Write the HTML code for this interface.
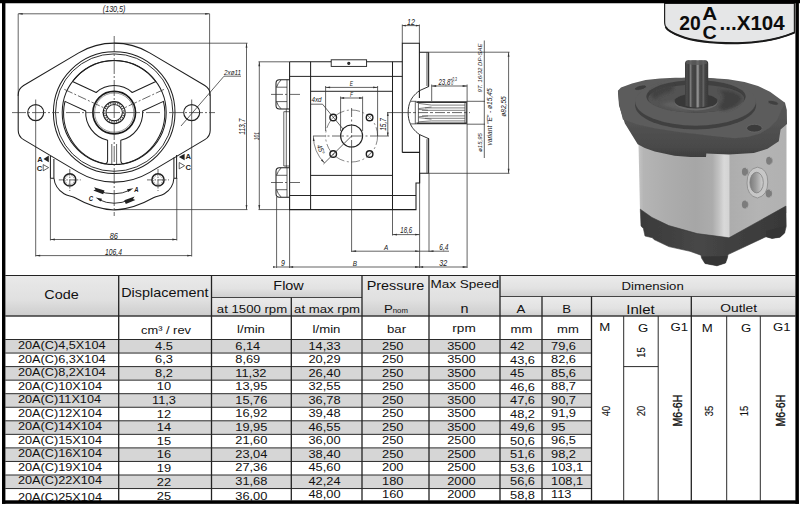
<!DOCTYPE html>
<html><head><meta charset="utf-8"><title>20A(C)...X104</title>
<style>
html,body{margin:0;padding:0;background:#fff;}
svg{display:block;font-family:"Liberation Sans",sans-serif;}
</style></head><body>
<svg width="800" height="505" viewBox="0 0 800 505">
<defs>
<linearGradient id="hg" x1="0" y1="0" x2="0" y2="1"><stop offset="0" stop-color="#e9e9e9"/><stop offset="0.6" stop-color="#e0e0e0"/><stop offset="1" stop-color="#cdcdcd"/></linearGradient>
<linearGradient id="hg2" x1="0" y1="0" x2="0" y2="1"><stop offset="0" stop-color="#ebebeb"/><stop offset="0.6" stop-color="#e2e2e2"/><stop offset="1" stop-color="#cfcfcf"/></linearGradient>

<filter id="pb" x="-5%" y="-5%" width="110%" height="110%"><feGaussianBlur stdDeviation="0.7"/></filter>
<filter id="pb2" x="-10%" y="-10%" width="120%" height="120%"><feGaussianBlur stdDeviation="1.4"/></filter>
<linearGradient id="bodyL" gradientUnits="userSpaceOnUse" x1="638" y1="0" x2="731" y2="0">
<stop offset="0" stop-color="#c6c6c6"/><stop offset="0.06" stop-color="#b5b5b5"/><stop offset="0.3" stop-color="#adadad"/>
<stop offset="0.62" stop-color="#a6a6a6"/><stop offset="0.8" stop-color="#acacac"/><stop offset="0.87" stop-color="#c2c2c2"/>
<stop offset="0.925" stop-color="#d9d9d9"/><stop offset="0.975" stop-color="#d4d4d4"/><stop offset="1" stop-color="#b0b0b0"/></linearGradient>
<linearGradient id="bodyR" gradientUnits="userSpaceOnUse" x1="730" y1="0" x2="787" y2="0">
<stop offset="0" stop-color="#adadad"/><stop offset="0.5" stop-color="#b4b4b4"/><stop offset="1" stop-color="#b1b1b1"/></linearGradient>
<linearGradient id="cov" gradientUnits="userSpaceOnUse" x1="640" y1="0" x2="787" y2="0">
<stop offset="0" stop-color="#3a3a3a"/><stop offset="0.4" stop-color="#474747"/><stop offset="0.62" stop-color="#404040"/><stop offset="1" stop-color="#383838"/></linearGradient>
<linearGradient id="flS" gradientUnits="userSpaceOnUse" x1="0" y1="118" x2="0" y2="158">
<stop offset="0" stop-color="#545454"/><stop offset="0.7" stop-color="#4a4a4a"/><stop offset="1" stop-color="#3c3c3c"/></linearGradient>
<linearGradient id="shaft" gradientUnits="userSpaceOnUse" x1="685" y1="0" x2="708.2" y2="0">
<stop offset="0" stop-color="#3c3c3c"/><stop offset="0.08" stop-color="#4a4a4a"/><stop offset="0.17" stop-color="#3e3e3e"/>
<stop offset="0.24" stop-color="#7c7c7c"/><stop offset="0.31" stop-color="#484848"/><stop offset="0.45" stop-color="#404040"/>
<stop offset="0.555" stop-color="#9c9c9c"/><stop offset="0.63" stop-color="#4c4c4c"/><stop offset="0.72" stop-color="#454545"/>
<stop offset="0.79" stop-color="#666"/><stop offset="0.86" stop-color="#444"/><stop offset="1" stop-color="#383838"/></linearGradient>
<linearGradient id="port" gradientUnits="userSpaceOnUse" x1="749" y1="0" x2="764" y2="0">
<stop offset="0" stop-color="#777"/><stop offset="0.45" stop-color="#9c9c9c"/><stop offset="1" stop-color="#d8d8d8"/></linearGradient>
</defs>
<rect width="800" height="505" fill="#fff"/>
<g filter="url(#pb)">
<path d="M638.3 135.0L731.0 135.0L731.0 240.0L700.0 236.0L664.6 226.0L640.0 211.0Z" fill="url(#bodyL)" />
<path d="M729.7 135.0L786.5 120.0L786.5 213.0L729.7 240.0Z" fill="url(#bodyR)" />
<path d="M757.4 167.2Q767.8 168.6 767.8 182Q767.8 195.6 757.4 198Q747 195.8 747 183Q747 169 757.4 167.2Z" fill="#c7c7c7" stroke="#8e8e8e" stroke-width="0.9"/>
<ellipse cx="756.6" cy="182.6" rx="6.7" ry="10.3" fill="url(#port)" stroke="#808080" stroke-width="0.8"/>
<ellipse cx="745.1" cy="171.7" rx="3.2" ry="4" fill="#7c7c7c"/>
<path d="M745.7 167.89999999999998A3.2 4 0 0 1 745.7 175.5A2 3.6 0 0 0 745.7 167.89999999999998Z" fill="#dcdcdc"/>
<ellipse cx="769.3" cy="160.8" rx="3.2" ry="4" fill="#7c7c7c"/>
<path d="M769.9 157.0A3.2 4 0 0 1 769.9 164.60000000000002A2 3.6 0 0 0 769.9 157.0Z" fill="#dcdcdc"/>
<ellipse cx="768.9" cy="193.5" rx="3.2" ry="4" fill="#7c7c7c"/>
<path d="M769.5 189.7A3.2 4 0 0 1 769.5 197.3A2 3.6 0 0 0 769.5 189.7Z" fill="#dcdcdc"/>
<ellipse cx="745.1" cy="204.4" rx="3.2" ry="4" fill="#7c7c7c"/>
<path d="M745.7 200.6A3.2 4 0 0 1 745.7 208.20000000000002A2 3.6 0 0 0 745.7 200.6Z" fill="#dcdcdc"/>
<path d="M640.3 209.2L652.0 217.5L668.8 225.6L697.2 233.6L727.8 237.6L729.0 237.8L785.9 206.1L786.2 226.5L784.6 233.0L780.0 237.2L772.0 238.4L766.0 236.8L764.5 237.4L728.0 254.6L727.4 258.0L725.5 263.0L717.0 265.8L705.0 263.5L701.5 258.0L701.0 255.2L690.0 251.3L668.8 246.6L654.0 239.5L652.3 237.7L645.0 236.0L643.4 228.5L641.0 226.0Z" fill="url(#cov)" stroke="#3a3a3a" stroke-width="0.6" stroke-linejoin="round"/>
<path d="M701.5 256.5L727.5 256.0L725.5 263.0L717.0 265.8L705.0 263.5Z" fill="#353535" />
<path d="M766.0 231.0L785.0 226.0L784.6 233.0L780.0 237.2L772.0 238.4L766.0 236.8Z" fill="#353535" />
<path d="M617.9 90.8L619.0 105.6L624.9 123.5L637.7 144.3L644.8 147.9L654.7 151.5L674.5 155.8L690.3 156.9L706.0 157.0L706.3 153.6L728.8 154.4L753.8 153.0L767.5 148.8L778.8 141.2L780.6 129.5L787.0 124.0L786.8 110.0L785.0 102.7Z" fill="url(#flS)" />
<path d="M617.9 90.8L621.0 87.5L632.0 83.5L645.6 79.9L660.0 78.5L675.0 77.8L708.9 77.9L728.0 79.3L744.5 81.9L758.0 86.0L770.0 91.8L785.0 102.7L777.0 120.5L770.0 127.5L760.3 133.4L748.0 137.0L734.6 138.2L712.0 136.0L696.0 134.0L680.0 132.2L655.5 128.6L637.0 124.5L622.9 119.5L619.4 105.6Z" fill="#5b5b5b" />
</g>
<g filter="url(#pb)">
<ellipse cx="695.6" cy="105" rx="60.6" ry="24.4" fill="#404040"/>
<ellipse cx="695.6" cy="101.5" rx="60.4" ry="24.2" fill="#5b5b5b"/>
<ellipse cx="696" cy="96.4" rx="49.6" ry="16.2" fill="#3f3f3f"/>
<ellipse cx="696.2" cy="98.6" rx="48" ry="14" fill="#525252"/>
<path d="M651 93Q656 85.5 672 84.5Q676 88 670 92Q660 94 656 99Q651 98 651 93Z" fill="#434343" filter="url(#pb2)"/>
<path d="M719 90Q736 90 742 98Q740 106 724 110.5Q716 109 722 102Q726 96 719 90Z" fill="#414141" filter="url(#pb2)"/>
<path d="M660 104Q672 110 692 111.5Q680 106 672 101Z" fill="#5e5e5e" filter="url(#pb2)"/>
<ellipse cx="696" cy="102" rx="21.7" ry="8.4" fill="#6a6a6a"/>
<ellipse cx="696" cy="101" rx="21.5" ry="7.6" fill="#383838"/>
<ellipse cx="754.4" cy="128.2" rx="7.8" ry="3.9" fill="#3b3b3b" stroke="#6a6a6a" stroke-width="0.8"/>
<ellipse cx="773.2" cy="102.8" rx="5.4" ry="2.1" fill="#404040" stroke="#666" stroke-width="0.5" transform="rotate(12 773.2 102.8)"/>
<ellipse cx="640.5" cy="87.7" rx="6.2" ry="2.3" fill="#3c3c3c" stroke="#666" stroke-width="0.6" transform="rotate(-14 640.5 87.7)"/>
<path d="M685 63.5Q685 60.4 688 60.2H705.2Q708.2 60.4 708.2 63.5V105.8Q697 109.4 685 105.8Z" fill="url(#shaft)"/>
<path d="M686 63.5Q686 61 688.5 60.6H704.7Q707.2 61 707.2 63.5Q697 66.5 686 63.5Z" fill="#5c5c5c" opacity="0.8"/>
</g>
<path d="M18.2 96V13.8H209.6V96" fill="none" stroke="#363636" stroke-width="0.78" />
<path d="M18.20 13.80L22.70 12.90L22.70 14.70Z" fill="#333"/>
<path d="M209.60 13.80L205.10 14.70L205.10 12.90Z" fill="#333"/>
<text transform="translate(114.10,11.90) scale(0.875,1)" font-size="8.2" font-style="italic" text-anchor="middle" fill="#161616" >(130,5)</text>
<path d="M114.2 43.2H247.5" fill="none" stroke="#363636" stroke-width="0.78" />
<path d="M114.2 209.6H247.5" fill="none" stroke="#363636" stroke-width="0.78" />
<path d="M246.5 43.2V209.6" fill="none" stroke="#363636" stroke-width="0.78" />
<path d="M246.50 43.20L247.40 47.70L245.60 47.70Z" fill="#333"/>
<path d="M246.50 209.60L245.60 205.10L247.40 205.10Z" fill="#333"/>
<text transform="translate(244.90,126.70) rotate(-90) scale(0.8,1)" font-size="8.4" font-style="italic" text-anchor="middle" fill="#161616" >113,7</text>
<path d="M50.4 178V240.5M176.8 178V240.5M50.4 239.5H176.8" fill="none" stroke="#363636" stroke-width="0.78" />
<path d="M50.40 239.50L54.90 238.60L54.90 240.40Z" fill="#333"/>
<path d="M176.80 239.50L172.30 240.40L172.30 238.60Z" fill="#333"/>
<text transform="translate(113.70,238.70) scale(0.87,1)" font-size="8.4" font-style="italic" text-anchor="middle" fill="#161616" >86</text>
<path d="M35.7 121V256.5M191.7 121V256.5M35.7 255.6H191.7" fill="none" stroke="#363636" stroke-width="0.78" />
<path d="M35.70 255.60L40.20 254.70L40.20 256.50Z" fill="#333"/>
<path d="M191.70 255.60L187.20 256.50L187.20 254.70Z" fill="#333"/>
<text transform="translate(113.50,254.50) scale(0.8,1)" font-size="8.4" font-style="italic" text-anchor="middle" fill="#161616" >106,4</text>
<path d="M241 76.2H224L181 126" fill="none" stroke="#363636" stroke-width="0.78" />
<text transform="translate(232.50,74.60) scale(1.0,1)" font-size="6.3" font-style="italic" text-anchor="middle" fill="#161616" font-style="normal">2xø11</text>
<path d="M50.4 156V178.2 M53.9 159V178 C54.5 184 58 190 64 193.8 C68 196.3 71 195.6 74.5 197.5 C86 204 100 209.6 114.2 209.9 C128.4 209.6 142.4 204 153.9 197.5 C157.4 195.6 160.4 196.3 164.4 193.8 C170.4 190 173.6 184 173.9 178 V157.5 M176.6 155V178.2 M50.4 178.2H53.9 M173.9 178.2H177.2" fill="none" stroke="#1e1e1e" stroke-width="1.02" />
<circle cx="69.8" cy="179.9" r="6.1" fill="none" stroke="#1e1e1e" stroke-width="1.5" />
<circle cx="69.8" cy="179.9" r="4.6" fill="none" stroke="#363636" stroke-width="0.5" stroke-dasharray="1.5 1"/>
<path d="M58.8 179.9H80.8M69.8 169V191" fill="none" stroke="#363636" stroke-width="0.75" stroke-dasharray="6 1.5 1.5 1.5"/>
<circle cx="158.0" cy="179.9" r="6.1" fill="none" stroke="#1e1e1e" stroke-width="1.5" />
<circle cx="158.0" cy="179.9" r="4.6" fill="none" stroke="#363636" stroke-width="0.5" stroke-dasharray="1.5 1"/>
<path d="M147.0 179.9H169.0M158.0 169V191" fill="none" stroke="#363636" stroke-width="0.75" stroke-dasharray="6 1.5 1.5 1.5"/>
<path d="M78.72 52.84A69.5 69.5 0 0 1 149.68 52.84L204.82 85.58A11.0 11.0 0 0 1 210.20 95.03V130.17A11.0 11.0 0 0 1 204.82 139.62L149.68 172.36A69.5 69.5 0 0 1 78.72 172.36L23.58 139.62A11.0 11.0 0 0 1 18.20 130.17V95.03A11.0 11.0 0 0 1 23.58 85.58Z" fill="none" stroke="#1e1e1e" stroke-width="1.0699999999999998" />
<circle cx="114.2" cy="112.6" r="60.8" fill="none" stroke="#1e1e1e" stroke-width="1.02" />
<circle cx="114.2" cy="112.6" r="58.7" fill="none" stroke="#1e1e1e" stroke-width="0.92" />
<circle cx="114.2" cy="112.6" r="52.0" fill="none" stroke="#1e1e1e" stroke-width="1.02" />
<circle cx="114.2" cy="112.6" r="21.3" fill="none" stroke="#1a1a1a" stroke-width="1.7" />
<circle cx="114.2" cy="112.6" r="19.6" fill="none" stroke="#363636" stroke-width="0.5" />
<circle cx="114.2" cy="112.6" r="11.0" fill="none" stroke="#1e1e1e" stroke-width="1.12" />
<circle cx="114.2" cy="112.6" r="8.2" fill="none" stroke="#1e1e1e" stroke-width="1.02" />
<circle cx="114.2" cy="112.6" r="9.6" fill="none" stroke="#555" stroke-width="1.6" stroke-dasharray="1.2 1.2"/>
<path d="M72.54 81.48A52.0 52.0 0 0 1 155.86 81.48L132.23 92.50A27.0 27.0 0 0 0 96.17 92.50Z" fill="none" stroke="#1e1e1e" stroke-width="1.02" stroke-linejoin="round"/>
<path d="M64.97 101.34L85.74 111.03A28.5 28.5 0 0 0 107.60 140.33L107.60 159.80Q107.60 163.80 105.10 163.80A52.0 52.0 0 0 1 64.97 101.34Z" fill="none" stroke="#1e1e1e" stroke-width="1.02" stroke-linejoin="round"/>
<path d="M163.43 101.34L142.66 111.03A28.5 28.5 0 0 1 120.80 140.33L120.80 159.80Q120.80 163.80 123.30 163.80A52.0 52.0 0 0 0 163.43 101.34Z" fill="none" stroke="#1e1e1e" stroke-width="1.02" stroke-linejoin="round"/>
<path d="M111.8 144V164.5M116.60000000000001 144V164.5" fill="none" stroke="#1e1e1e" stroke-width="0.7" />
<circle cx="35.7" cy="112.6" r="8.0" fill="none" stroke="#1e1e1e" stroke-width="1.12" />
<circle cx="191.7" cy="112.6" r="8.0" fill="none" stroke="#1e1e1e" stroke-width="1.12" />
<path d="M114.2 36V216" fill="none" stroke="#363636" stroke-width="0.75" stroke-dasharray="16 2 2 2"/>
<path d="M12 112.6H59M66 112.6H162M169 112.6H215" fill="none" stroke="#363636" stroke-width="0.75" stroke-dasharray="14 2 2 2"/>
<path d="M35.7 99.5V121M191.7 99.5V121" fill="none" stroke="#363636" stroke-width="0.75" />
<path d="M64.35 89.36L106.04 108.80" fill="none" stroke="#363636" stroke-width="0.75" stroke-dasharray="9 2 2 2"/>
<path d="M164.05 89.36L122.36 108.80" fill="none" stroke="#363636" stroke-width="0.75" stroke-dasharray="9 2 2 2"/>
<path d="M97 190.3Q114.2 197.5 130.5 190" fill="none" stroke="#1e1e1e" stroke-width="0.92" />
<path d="M94 187.2L104.5 190.6L103.2 194.2L93.3 190.6L95.6 189.6Z" fill="#222"/>
<path d="M133.5 188.3L127 189.3L128.2 191.9Z" fill="#222"/>
<path d="M98.5 199.5Q114.2 207 130 199.5" fill="none" stroke="#1e1e1e" stroke-width="0.92" />
<path d="M134.6 196.6L124.3 200.3L125.8 203.9L135.4 200L133 199Z" fill="#222"/>
<path d="M95.6 197.6L102 198.8L100.8 201.4Z" fill="#222"/>
<text transform="translate(136.30,191.50) scale(0.92,1)" font-size="6.5" font-style="italic" text-anchor="middle" fill="#161616" font-weight="bold">A</text>
<text transform="translate(91.00,200.50) scale(0.92,1)" font-size="6.5" font-style="italic" text-anchor="middle" fill="#161616" font-weight="bold">C</text>
<text x="37.3" y="161.9" font-size="7.6" font-weight="bold" fill="#222">A</text>
<text x="36.8" y="170.8" font-size="7.6" font-weight="bold" fill="#222">C</text>
<path d="M43.5 159L48.8 155.6V162.2Z" fill="#222"/>
<path d="M48.6 167.6L43.2 164.6V170.8Z" fill="none" stroke="#1e1e1e" stroke-width="0.7" />
<text x="185.4" y="159.4" font-size="7.6" font-weight="bold" fill="#222">A</text>
<text x="185.4" y="170.4" font-size="7.6" font-weight="bold" fill="#222">C</text>
<path d="M178.9 157L184.6 153.8V160.2Z" fill="#222"/>
<path d="M184.6 165.7L179.2 162.5V168.9Z" fill="none" stroke="#1e1e1e" stroke-width="0.7" />
<path d="M258.5 61.8H289.6M258.5 209.6H289.6M259.3 61.8V209.6" fill="none" stroke="#363636" stroke-width="0.78" />
<path d="M259.30 61.80L260.20 66.30L258.40 66.30Z" fill="#333"/>
<path d="M259.30 209.60L258.40 205.10L260.20 205.10Z" fill="#333"/>
<text transform="translate(258.70,136.20) rotate(-90) scale(0.64,1)" font-size="7.8" font-style="italic" text-anchor="middle" fill="#161616" >101</text>
<path d="M276.6 197V268M289.6 209.6V268M276.6 267H467.2" fill="none" stroke="#363636" stroke-width="0.78" />
<path d="M276.60 267.00L273.10 267.90L273.10 266.10Z" fill="#333"/>
<path d="M289.60 267.00L293.10 266.10L293.10 267.90Z" fill="#333"/>
<path d="M419.60 267.00L415.10 267.90L415.10 266.10Z" fill="#333"/>
<path d="M419.60 267.00L423.10 266.10L423.10 267.90Z" fill="#333"/>
<path d="M467.20 267.00L462.70 267.90L462.70 266.10Z" fill="#333"/>
<text transform="translate(283.00,266.20) scale(0.85,1)" font-size="8.2" font-style="italic" text-anchor="middle" fill="#161616" >9</text>
<text transform="translate(354.90,266.20) scale(0.8,1)" font-size="8" font-style="italic" text-anchor="middle" fill="#161616" >B</text>
<text transform="translate(443.30,266.20) scale(0.87,1)" font-size="8.2" font-style="italic" text-anchor="middle" fill="#161616" >32</text>
<path d="M351.6 147V252M351.6 251.2H449" fill="none" stroke="#363636" stroke-width="0.78" />
<path d="M351.60 251.20L356.10 250.30L356.10 252.10Z" fill="#333"/>
<path d="M419.60 251.20L415.10 252.10L415.10 250.30Z" fill="#333"/>
<path d="M429.00 251.20L433.50 250.30L433.50 252.10Z" fill="#333"/>
<text transform="translate(386.20,250.00) scale(0.8,1)" font-size="8" font-style="italic" text-anchor="middle" fill="#161616" >A</text>
<text transform="translate(443.80,250.00) scale(0.8,1)" font-size="8.2" font-style="italic" text-anchor="middle" fill="#161616" >6,4</text>
<path d="M392.5 209.6V235.5M392.5 234.6H419.6" fill="none" stroke="#363636" stroke-width="0.78" />
<path d="M392.50 234.60L397.00 233.70L397.00 235.50Z" fill="#333"/>
<path d="M419.60 234.60L415.10 235.50L415.10 233.70Z" fill="#333"/>
<text transform="translate(406.20,232.80) scale(0.72,1)" font-size="8.4" font-style="italic" text-anchor="middle" fill="#161616" >18,6</text>
<path d="M419.6 183V268M429 173.3V252M431.7 84.5V101M467.1 84.5V268" fill="none" stroke="#363636" stroke-width="0.78" />
<path d="M402.3 43.2V24.5M419.4 43.2V24.5M402.3 25.6H419.4" fill="none" stroke="#363636" stroke-width="0.78" />
<path d="M402.30 25.60L405.80 24.70L405.80 26.50Z" fill="#333"/>
<path d="M419.40 25.60L415.90 26.50L415.90 24.70Z" fill="#333"/>
<text transform="translate(411.00,24.80) scale(0.85,1)" font-size="8.4" font-style="italic" text-anchor="middle" fill="#161616" >12</text>
<path d="M431.7 86H467.1" fill="none" stroke="#363636" stroke-width="0.78" />
<path d="M431.70 86.00L436.20 85.10L436.20 86.90Z" fill="#333"/>
<path d="M467.10 86.00L462.60 86.90L462.60 85.10Z" fill="#333"/>
<text transform="translate(438.5,85) scale(0.72,1)" font-size="8.4" font-style="italic" fill="#161616">23,8<tspan font-size="4.6" dy="-3.6">+0,3</tspan><tspan font-size="4.6" dy="3.4" dx="-9"> 0</tspan></text>
<path d="M429 52.2H509.5M429 173.3H509.5M508.6 52.2V173.3" fill="none" stroke="#363636" stroke-width="0.78" />
<path d="M508.60 52.20L509.50 56.70L507.70 56.70Z" fill="#333"/>
<path d="M508.60 173.30L507.70 168.80L509.50 168.80Z" fill="#333"/>
<text transform="translate(506.20,106.50) rotate(-90) scale(1.0,1)" font-size="6.6" font-style="italic" text-anchor="middle" fill="#161616" font-style="normal">ø82,55</text>
<path d="M467 101.3H485M467 124.2H485M484.3 40.5V158" fill="none" stroke="#363636" stroke-width="0.78" />
<text transform="translate(481.80,68.00) rotate(-90) scale(1.0,1)" font-size="6" font-style="italic" text-anchor="middle" fill="#161616" >9T. 16/32 DP-SAE</text>
<text transform="translate(481.80,142.50) rotate(-90) scale(1.0,1)" font-size="6" font-style="italic" text-anchor="middle" fill="#161616" font-style="normal">ø15,95</text>
<text transform="translate(492.30,117.00) rotate(-90) scale(1.0,1)" font-size="6.6" font-style="italic" text-anchor="middle" fill="#161616" font-style="normal">variant "E" - ø15,45</text>
<path d="M387 112.6H401M378 136H389M387.8 112.6V136" fill="none" stroke="#363636" stroke-width="0.78" />
<path d="M387.80 112.60L388.70 116.10L386.90 116.10Z" fill="#333"/>
<path d="M387.80 136.00L386.90 132.50L388.70 132.50Z" fill="#333"/>
<text transform="translate(386.20,124.50) rotate(-90) scale(0.8,1)" font-size="8.2" font-style="italic" text-anchor="middle" fill="#161616" >15,7</text>
<path d="M289.6 61.8H402.3M289.6 61.8V209.6H416V183H419.6V173.3" fill="none" stroke="#1e1e1e" stroke-width="1.0699999999999998" />
<path d="M289.6 76.4H402.3M289.6 195.5H416M310.6 91.3H392.5M310.6 175.4H392.5" fill="none" stroke="#1e1e1e" stroke-width="0.97" />
<path d="M310.6 61.8V209.6M392.5 61.8V209.6" fill="none" stroke="#1e1e1e" stroke-width="1.02" />
<rect x="331.2" y="59.8" width="35.4" height="6.6" fill="#fff" stroke="#1e1e1e" stroke-width="0.9"/>
<circle cx="348.8" cy="63.3" r="1.1" fill="#444" stroke="#1e1e1e" stroke-width="1.02" />
<path d="M402.3 152.4V43.2H419.4V98M402.3 152.4H419.6M419.6 134.5V183" fill="none" stroke="#1e1e1e" stroke-width="1.0699999999999998" />
<path d="M419.4 52.2H429M419.6 173.3H429" fill="none" stroke="#1e1e1e" stroke-width="1.02" />
<path d="M428.4 52.2V86.6M428.4 138.6V173.3" fill="none" stroke="#333" stroke-width="1.6" />
<path d="M426.6 52.2V86M426.6 139.2V173.3" fill="none" stroke="#363636" stroke-width="0.5" />
<path d="M429 86.4L419.6 90.6C414 94.5 411.2 99 410.4 101.3C407.4 107 407.4 118.2 410.4 123.9C411.2 126.2 414 130.7 419.6 134.6L429 138.8" fill="none" stroke="#1e1e1e" stroke-width="0.92" />
<path d="M410.8 101.3H416.4M410.8 123.9H416.4" fill="none" stroke="#1e1e1e" stroke-width="0.7" />
<path d="M415.3 101.3V124M418.4 101.3V124M465 102V123.6M466.5 101.3V124.2" fill="none" stroke="#1e1e1e" stroke-width="0.7" />
<path d="M416.4 102.1H466.5M416.4 123.4H466.5" fill="none" stroke="#333" stroke-width="1.7" />
<path d="M431.5 105.1H465M425 107.9H465M422 110.3H465M422 115.9H465M425 118.3H465M431.5 120.9H465" fill="none" stroke="#555" stroke-width="0.75" />
<path d="M418.5 103.4L431.5 105.1M418.5 108.6L431.5 107M418.5 109.4L428 110.3M418.5 116.8L428 115.9M418.5 117.6L431.5 119.2M418.5 121.8L431.5 120.9" fill="none" stroke="#555" stroke-width="0.75" />
<path d="M401 112.6H470" fill="none" stroke="#363636" stroke-width="0.75" stroke-dasharray="10 2 3 2"/>
<path d="M289.4 79.7H279.5Q276 79.7 276 83.2V105.60000000000001Q276 109.10000000000001 279.5 109.10000000000001H289.4" fill="none" stroke="#1e1e1e" stroke-width="1.02" />
<path d="M276.4 87.2H287M276.4 101.60000000000001H287M287 79.7V109.10000000000001" fill="none" stroke="#1e1e1e" stroke-width="0.7" />
<path d="M281 80.0Q277.6 83.4 276.6 87.2M281 108.80000000000001Q277.6 105.4 276.6 101.60000000000001" fill="none" stroke="#1e1e1e" stroke-width="0.75" />
<path d="M271 94.4H300" fill="none" stroke="#363636" stroke-width="0.75" stroke-dasharray="12 2 2 2"/>
<path d="M289.4 167.8H279.5Q276 167.8 276 171.3V193.7Q276 197.2 279.5 197.2H289.4" fill="none" stroke="#1e1e1e" stroke-width="1.02" />
<path d="M276.4 175.3H287M276.4 189.7H287M287 167.8V197.2" fill="none" stroke="#1e1e1e" stroke-width="0.7" />
<path d="M281 168.10000000000002Q277.6 171.5 276.6 175.3M281 196.89999999999998Q277.6 193.5 276.6 189.7" fill="none" stroke="#1e1e1e" stroke-width="0.75" />
<path d="M271 182.5H300" fill="none" stroke="#363636" stroke-width="0.75" stroke-dasharray="12 2 2 2"/>
<path d="M283.8 111.7V166M286.3 109.2V167.6M283.8 111.7H289.4M283.8 166H289.4" fill="none" stroke="#1e1e1e" stroke-width="0.7" />
<circle cx="351.6" cy="136" r="11" fill="none" stroke="#1e1e1e" stroke-width="1.12" />
<circle cx="333.2" cy="117.5" r="3.3" fill="none" stroke="#1e1e1e" stroke-width="1.4" />
<path d="M331.0 119.7L335.4 115.3" fill="none" stroke="#363636" stroke-width="0.5" />
<circle cx="369.6" cy="117.5" r="3.3" fill="none" stroke="#1e1e1e" stroke-width="1.4" />
<path d="M367.40000000000003 119.7L371.8 115.3" fill="none" stroke="#363636" stroke-width="0.5" />
<circle cx="333.2" cy="154" r="3.3" fill="none" stroke="#1e1e1e" stroke-width="1.4" />
<path d="M331.0 156.2L335.4 151.8" fill="none" stroke="#363636" stroke-width="0.5" />
<circle cx="369.6" cy="154" r="3.3" fill="none" stroke="#1e1e1e" stroke-width="1.4" />
<path d="M367.40000000000003 156.2L371.8 151.8" fill="none" stroke="#363636" stroke-width="0.5" />
<path d="M377.6 136A26 26 0 1 1 325.6 136" fill="none" stroke="#363636" stroke-width="0.6" stroke-dasharray="9 2.5 2 2.5"/>
<path d="M377.6 136A26 26 0 0 0 325.6 136" fill="none" stroke="#363636" stroke-width="0.6" stroke-dasharray="9 2.5 2 2.5"/>
<path d="M313 136H378" fill="none" stroke="#363636" stroke-width="0.75" stroke-dasharray="12 2.5 2 2.5"/>
<path d="M351.6 108V147" fill="none" stroke="#363636" stroke-width="0.75" stroke-dasharray="9 2.5 2 2.5"/>
<path d="M325.6 86V131M377.6 86V136M325.6 87.4H377.6" fill="none" stroke="#363636" stroke-width="0.78" />
<path d="M325.60 87.40L330.10 86.50L330.10 88.30Z" fill="#333"/>
<path d="M377.60 87.40L373.10 88.30L373.10 86.50Z" fill="#333"/>
<text transform="translate(351.40,86.20) scale(0.72,1)" font-size="6.8" font-style="italic" text-anchor="middle" fill="#161616" >E</text>
<path d="M340.6 96.5V131M362.6 96.5V131M340.6 98H362.6" fill="none" stroke="#363636" stroke-width="0.78" />
<path d="M340.60 98.00L344.10 97.10L344.10 98.90Z" fill="#333"/>
<path d="M362.60 98.00L359.10 98.90L359.10 97.10Z" fill="#333"/>
<text transform="translate(351.40,96.90) scale(0.72,1)" font-size="6.8" font-style="italic" text-anchor="middle" fill="#161616" >F</text>
<text transform="translate(316.50,102.40) scale(0.85,1)" font-size="7.4" font-style="italic" text-anchor="middle" fill="#161616" >4xd</text>
<path d="M311 104.2H322.5L343 129" fill="none" stroke="#363636" stroke-width="0.78" />
<path d="M313.4 136A38.3 38.3 0 0 0 324.5 163" fill="none" stroke="#363636" stroke-width="0.6"/>
<path d="M313.40 137.00L314.65 140.91L312.85 141.06Z" fill="#333"/>
<path d="M324.30 162.80L320.95 160.43L322.29 159.23Z" fill="#333"/>
<path d="M351.6 136L323.5 164" fill="none" stroke="#363636" stroke-width="0.78" />
<text transform="translate(318.40,150.50) rotate(68) scale(0.85,1)" font-size="7.4" font-style="italic" text-anchor="middle" fill="#161616" >45°</text>
<rect x="5.3" y="275.5" width="790.1" height="40.5" fill="url(#hg)"/>
<rect x="211.5" y="275.5" width="150.5" height="22.0" fill="url(#hg2)"/>
<rect x="211.5" y="297.5" width="150.5" height="18.5" fill="url(#hg2)"/>
<rect x="500" y="275.5" width="295.4" height="21.0" fill="url(#hg2)"/>
<rect x="500" y="296.5" width="295.4" height="19.5" fill="url(#hg2)"/>
<rect x="5.3" y="339.50" width="586.2" height="13.55" fill="#d6d6d6"/>
<rect x="5.3" y="366.60" width="586.2" height="13.55" fill="#d6d6d6"/>
<rect x="5.3" y="393.70" width="586.2" height="13.55" fill="#d6d6d6"/>
<rect x="5.3" y="420.80" width="586.2" height="13.55" fill="#d6d6d6"/>
<rect x="5.3" y="447.90" width="586.2" height="13.55" fill="#d6d6d6"/>
<rect x="5.3" y="475.00" width="586.2" height="13.55" fill="#d6d6d6"/>
<path d="M5.3 275.5H795.4" stroke="#222" stroke-width="1.2"/>
<path d="M5.3 316.0H795.4" stroke="#383838" stroke-width="1.5"/>
<path d="M211.5 297.5H362" stroke="#444" stroke-width="1.2"/>
<path d="M500 296.5H795.4" stroke="#444" stroke-width="1.2"/>
<path d="M5.3 339.5H591.5" stroke="#2a2a2a" stroke-width="1"/>
<path d="M5.3 353.05H591.5" stroke="#2a2a2a" stroke-width="1"/>
<path d="M5.3 366.60H591.5" stroke="#2a2a2a" stroke-width="1"/>
<path d="M5.3 380.15H591.5" stroke="#2a2a2a" stroke-width="1"/>
<path d="M5.3 393.70H591.5" stroke="#2a2a2a" stroke-width="1"/>
<path d="M5.3 407.25H591.5" stroke="#2a2a2a" stroke-width="1"/>
<path d="M5.3 420.80H591.5" stroke="#2a2a2a" stroke-width="1"/>
<path d="M5.3 434.35H591.5" stroke="#2a2a2a" stroke-width="1"/>
<path d="M5.3 447.90H591.5" stroke="#2a2a2a" stroke-width="1"/>
<path d="M5.3 461.45H591.5" stroke="#2a2a2a" stroke-width="1"/>
<path d="M5.3 475.00H591.5" stroke="#2a2a2a" stroke-width="1"/>
<path d="M5.3 488.55H591.5" stroke="#2a2a2a" stroke-width="1"/>
<path d="M623.7 366.6H658.2" stroke="#2a2a2a" stroke-width="1"/>
<path d="M118.7 275.5V500.5" stroke="#222" stroke-width="1.3"/>
<path d="M211.5 275.5V500.5" stroke="#222" stroke-width="1.3"/>
<path d="M362 275.5V500.5" stroke="#222" stroke-width="1.3"/>
<path d="M429 275.5V500.5" stroke="#222" stroke-width="1.3"/>
<path d="M500 275.5V500.5" stroke="#222" stroke-width="1.3"/>
<path d="M291.3 297.5V500.5" stroke="#222" stroke-width="1.3"/>
<path d="M542 296.5V500.5" stroke="#222" stroke-width="1.3"/>
<path d="M591.5 296.5V500.5" stroke="#222" stroke-width="1.3"/>
<path d="M691.3 296.5V500.5" stroke="#222" stroke-width="1.3"/>
<path d="M623.7 316.0V500.5" stroke="#2a2a2a" stroke-width="1"/>
<path d="M658.2 316.0V500.5" stroke="#2a2a2a" stroke-width="1"/>
<path d="M726.7 316.0V500.5" stroke="#2a2a2a" stroke-width="1"/>
<path d="M760.3 316.0V500.5" stroke="#2a2a2a" stroke-width="1"/>
<text transform="translate(61.50,299.00) scale(1.2,1)" font-size="12" text-anchor="middle" fill="#111" >Code</text>
<text transform="translate(164.80,297.00) scale(1.2,1)" font-size="12" text-anchor="middle" fill="#111" >Displacement</text>
<text transform="translate(288.55,289.60) scale(1.2,1)" font-size="12" text-anchor="middle" fill="#111" >Flow</text>
<text transform="translate(252.00,312.50) scale(1.2,1)" font-size="11" text-anchor="middle" fill="#111" >at 1500 rpm</text>
<text transform="translate(327.00,312.50) scale(1.2,1)" font-size="11" text-anchor="middle" fill="#111" >at max rpm</text>
<text transform="translate(395.50,289.50) scale(1.2,1)" font-size="12" text-anchor="middle" fill="#111" >Pressure</text>
<text transform="translate(464.70,288.00) scale(1.2,1)" font-size="11.3" text-anchor="middle" fill="#111" >Max Speed</text>
<text transform="translate(652.60,290.30) scale(1.2,1)" font-size="11" text-anchor="middle" fill="#111" >Dimension</text>
<text transform="translate(521.00,312.50) scale(1.2,1)" font-size="11" text-anchor="middle" fill="#111" >A</text>
<text transform="translate(566.75,312.50) scale(1.2,1)" font-size="11" text-anchor="middle" fill="#111" >B</text>
<text transform="translate(640.50,314.00) scale(1.2,1)" font-size="12.5" text-anchor="middle" fill="#111" >Inlet</text>
<text transform="translate(738.70,312.20) scale(1.2,1)" font-size="11.5" text-anchor="middle" fill="#111" >Outlet</text>
<text transform="translate(384,313) scale(1.2,1)" font-size="11" fill="#111">P<tspan font-size="6.5">nom</tspan></text>
<text transform="translate(464.50,312.80) scale(1.2,1)" font-size="12" text-anchor="middle" fill="#111" >n</text>
<text transform="translate(166.00,333.70) scale(1.2,1)" font-size="10.7" text-anchor="middle" fill="#111" >cm³ / rev</text>
<text transform="translate(251.00,332.50) scale(1.2,1)" font-size="11" text-anchor="middle" fill="#111" >l/min</text>
<text transform="translate(326.50,332.50) scale(1.2,1)" font-size="11" text-anchor="middle" fill="#111" >l/min</text>
<text transform="translate(396.50,332.60) scale(1.2,1)" font-size="11" text-anchor="middle" fill="#111" >bar</text>
<text transform="translate(464.00,332.30) scale(1.2,1)" font-size="11.3" text-anchor="middle" fill="#111" >rpm</text>
<text transform="translate(521.50,332.80) scale(1.2,1)" font-size="10.9" text-anchor="middle" fill="#111" >mm</text>
<text transform="translate(568.00,332.80) scale(1.2,1)" font-size="10.9" text-anchor="middle" fill="#111" >mm</text>
<text transform="translate(604.80,331.00) scale(1.2,1)" font-size="11" text-anchor="middle" fill="#111" >M</text>
<text transform="translate(643.20,331.80) scale(1.2,1)" font-size="11" text-anchor="middle" fill="#111" >G</text>
<text transform="translate(679.30,331.00) scale(1.2,1)" font-size="11" text-anchor="middle" fill="#111" >G1</text>
<text transform="translate(707.20,331.80) scale(1.2,1)" font-size="11" text-anchor="middle" fill="#111" >M</text>
<text transform="translate(746.20,331.80) scale(1.2,1)" font-size="11" text-anchor="middle" fill="#111" >G</text>
<text transform="translate(781.80,331.00) scale(1.2,1)" font-size="11" text-anchor="middle" fill="#111" >G1</text>
<text transform="translate(18.00,349.40) scale(1.2,1)" font-size="10.6" text-anchor="start" fill="#111" >20A(C)4,5X104</text>
<text transform="translate(164.00,349.70) scale(1.2,1)" font-size="10.7" text-anchor="middle" fill="#111" >4.5</text>
<text transform="translate(235.30,349.60) scale(1.2,1)" font-size="10.7" text-anchor="start" fill="#111" >6,14</text>
<text transform="translate(324.50,349.60) scale(1.2,1)" font-size="10.7" text-anchor="middle" fill="#111" >14,33</text>
<text transform="translate(392.70,349.60) scale(1.2,1)" font-size="10.7" text-anchor="middle" fill="#111" >250</text>
<text transform="translate(461.40,349.60) scale(1.2,1)" font-size="10.7" text-anchor="middle" fill="#111" >3500</text>
<text transform="translate(510.00,350.10) scale(1.2,1)" font-size="10.7" text-anchor="start" fill="#111" >42</text>
<text transform="translate(551.00,349.60) scale(1.2,1)" font-size="10.7" text-anchor="start" fill="#111" >79,6</text>
<text transform="translate(18.00,362.90) scale(1.2,1)" font-size="10.6" text-anchor="start" fill="#111" >20A(C)6,3X104</text>
<text transform="translate(164.00,363.28) scale(1.2,1)" font-size="10.7" text-anchor="middle" fill="#111" >6,3</text>
<text transform="translate(235.30,363.10) scale(1.2,1)" font-size="10.7" text-anchor="start" fill="#111" >8,69</text>
<text transform="translate(324.50,363.10) scale(1.2,1)" font-size="10.7" text-anchor="middle" fill="#111" >20,29</text>
<text transform="translate(392.70,363.10) scale(1.2,1)" font-size="10.7" text-anchor="middle" fill="#111" >250</text>
<text transform="translate(461.40,363.10) scale(1.2,1)" font-size="10.7" text-anchor="middle" fill="#111" >3500</text>
<text transform="translate(510.00,363.60) scale(1.2,1)" font-size="10.7" text-anchor="start" fill="#111" >43,6</text>
<text transform="translate(551.00,363.10) scale(1.2,1)" font-size="10.7" text-anchor="start" fill="#111" >82,6</text>
<text transform="translate(18.00,376.40) scale(1.2,1)" font-size="10.6" text-anchor="start" fill="#111" >20A(C)8,2X104</text>
<text transform="translate(164.00,376.86) scale(1.2,1)" font-size="10.7" text-anchor="middle" fill="#111" >8,2</text>
<text transform="translate(235.30,376.60) scale(1.2,1)" font-size="10.7" text-anchor="start" fill="#111" >11,32</text>
<text transform="translate(324.50,376.60) scale(1.2,1)" font-size="10.7" text-anchor="middle" fill="#111" >26,40</text>
<text transform="translate(392.70,376.60) scale(1.2,1)" font-size="10.7" text-anchor="middle" fill="#111" >250</text>
<text transform="translate(461.40,376.60) scale(1.2,1)" font-size="10.7" text-anchor="middle" fill="#111" >3500</text>
<text transform="translate(510.00,377.10) scale(1.2,1)" font-size="10.7" text-anchor="start" fill="#111" >45</text>
<text transform="translate(551.00,376.60) scale(1.2,1)" font-size="10.7" text-anchor="start" fill="#111" >85,6</text>
<text transform="translate(18.00,389.90) scale(1.2,1)" font-size="10.6" text-anchor="start" fill="#111" >20A(C)10X104</text>
<text transform="translate(164.00,390.44) scale(1.2,1)" font-size="10.7" text-anchor="middle" fill="#111" >10</text>
<text transform="translate(235.30,390.10) scale(1.2,1)" font-size="10.7" text-anchor="start" fill="#111" >13,95</text>
<text transform="translate(324.50,390.10) scale(1.2,1)" font-size="10.7" text-anchor="middle" fill="#111" >32,55</text>
<text transform="translate(392.70,390.10) scale(1.2,1)" font-size="10.7" text-anchor="middle" fill="#111" >250</text>
<text transform="translate(461.40,390.10) scale(1.2,1)" font-size="10.7" text-anchor="middle" fill="#111" >3500</text>
<text transform="translate(510.00,390.60) scale(1.2,1)" font-size="10.7" text-anchor="start" fill="#111" >46,6</text>
<text transform="translate(551.00,390.10) scale(1.2,1)" font-size="10.7" text-anchor="start" fill="#111" >88,7</text>
<text transform="translate(18.00,403.40) scale(1.2,1)" font-size="10.6" text-anchor="start" fill="#111" >20A(C)11X104</text>
<text transform="translate(164.00,404.02) scale(1.2,1)" font-size="10.7" text-anchor="middle" fill="#111" >11,3</text>
<text transform="translate(235.30,403.60) scale(1.2,1)" font-size="10.7" text-anchor="start" fill="#111" >15,76</text>
<text transform="translate(324.50,403.60) scale(1.2,1)" font-size="10.7" text-anchor="middle" fill="#111" >36,78</text>
<text transform="translate(392.70,403.60) scale(1.2,1)" font-size="10.7" text-anchor="middle" fill="#111" >250</text>
<text transform="translate(461.40,403.60) scale(1.2,1)" font-size="10.7" text-anchor="middle" fill="#111" >3500</text>
<text transform="translate(510.00,404.10) scale(1.2,1)" font-size="10.7" text-anchor="start" fill="#111" >47,6</text>
<text transform="translate(551.00,403.60) scale(1.2,1)" font-size="10.7" text-anchor="start" fill="#111" >90,7</text>
<text transform="translate(18.00,416.90) scale(1.2,1)" font-size="10.6" text-anchor="start" fill="#111" >20A(C)12X104</text>
<text transform="translate(164.00,417.60) scale(1.2,1)" font-size="10.7" text-anchor="middle" fill="#111" >12</text>
<text transform="translate(235.30,417.10) scale(1.2,1)" font-size="10.7" text-anchor="start" fill="#111" >16,92</text>
<text transform="translate(324.50,417.10) scale(1.2,1)" font-size="10.7" text-anchor="middle" fill="#111" >39,48</text>
<text transform="translate(392.70,417.10) scale(1.2,1)" font-size="10.7" text-anchor="middle" fill="#111" >250</text>
<text transform="translate(461.40,417.10) scale(1.2,1)" font-size="10.7" text-anchor="middle" fill="#111" >3500</text>
<text transform="translate(510.00,417.60) scale(1.2,1)" font-size="10.7" text-anchor="start" fill="#111" >48,2</text>
<text transform="translate(551.00,417.10) scale(1.2,1)" font-size="10.7" text-anchor="start" fill="#111" >91,9</text>
<text transform="translate(18.00,430.40) scale(1.2,1)" font-size="10.6" text-anchor="start" fill="#111" >20A(C)14X104</text>
<text transform="translate(164.00,431.18) scale(1.2,1)" font-size="10.7" text-anchor="middle" fill="#111" >14</text>
<text transform="translate(235.30,430.60) scale(1.2,1)" font-size="10.7" text-anchor="start" fill="#111" >19,95</text>
<text transform="translate(324.50,430.60) scale(1.2,1)" font-size="10.7" text-anchor="middle" fill="#111" >46,55</text>
<text transform="translate(392.70,430.60) scale(1.2,1)" font-size="10.7" text-anchor="middle" fill="#111" >250</text>
<text transform="translate(461.40,430.60) scale(1.2,1)" font-size="10.7" text-anchor="middle" fill="#111" >3500</text>
<text transform="translate(510.00,431.10) scale(1.2,1)" font-size="10.7" text-anchor="start" fill="#111" >49,6</text>
<text transform="translate(551.00,430.60) scale(1.2,1)" font-size="10.7" text-anchor="start" fill="#111" >95</text>
<text transform="translate(18.00,443.90) scale(1.2,1)" font-size="10.6" text-anchor="start" fill="#111" >20A(C)15X104</text>
<text transform="translate(164.00,444.76) scale(1.2,1)" font-size="10.7" text-anchor="middle" fill="#111" >15</text>
<text transform="translate(235.30,444.10) scale(1.2,1)" font-size="10.7" text-anchor="start" fill="#111" >21,60</text>
<text transform="translate(324.50,444.10) scale(1.2,1)" font-size="10.7" text-anchor="middle" fill="#111" >36,00</text>
<text transform="translate(392.70,444.10) scale(1.2,1)" font-size="10.7" text-anchor="middle" fill="#111" >250</text>
<text transform="translate(461.40,444.10) scale(1.2,1)" font-size="10.7" text-anchor="middle" fill="#111" >2500</text>
<text transform="translate(510.00,444.60) scale(1.2,1)" font-size="10.7" text-anchor="start" fill="#111" >50,6</text>
<text transform="translate(551.00,444.10) scale(1.2,1)" font-size="10.7" text-anchor="start" fill="#111" >96,5</text>
<text transform="translate(18.00,457.40) scale(1.2,1)" font-size="10.6" text-anchor="start" fill="#111" >20A(C)16X104</text>
<text transform="translate(164.00,458.34) scale(1.2,1)" font-size="10.7" text-anchor="middle" fill="#111" >16</text>
<text transform="translate(235.30,457.60) scale(1.2,1)" font-size="10.7" text-anchor="start" fill="#111" >23,04</text>
<text transform="translate(324.50,457.60) scale(1.2,1)" font-size="10.7" text-anchor="middle" fill="#111" >38,40</text>
<text transform="translate(392.70,457.60) scale(1.2,1)" font-size="10.7" text-anchor="middle" fill="#111" >250</text>
<text transform="translate(461.40,457.60) scale(1.2,1)" font-size="10.7" text-anchor="middle" fill="#111" >2500</text>
<text transform="translate(510.00,458.10) scale(1.2,1)" font-size="10.7" text-anchor="start" fill="#111" >51,6</text>
<text transform="translate(551.00,457.60) scale(1.2,1)" font-size="10.7" text-anchor="start" fill="#111" >98,2</text>
<text transform="translate(18.00,470.90) scale(1.2,1)" font-size="10.6" text-anchor="start" fill="#111" >20A(C)19X104</text>
<text transform="translate(164.00,471.92) scale(1.2,1)" font-size="10.7" text-anchor="middle" fill="#111" >19</text>
<text transform="translate(235.30,471.10) scale(1.2,1)" font-size="10.7" text-anchor="start" fill="#111" >27,36</text>
<text transform="translate(324.50,471.10) scale(1.2,1)" font-size="10.7" text-anchor="middle" fill="#111" >45,60</text>
<text transform="translate(392.70,471.10) scale(1.2,1)" font-size="10.7" text-anchor="middle" fill="#111" >200</text>
<text transform="translate(461.40,471.10) scale(1.2,1)" font-size="10.7" text-anchor="middle" fill="#111" >2500</text>
<text transform="translate(510.00,471.60) scale(1.2,1)" font-size="10.7" text-anchor="start" fill="#111" >53,6</text>
<text transform="translate(551.00,471.10) scale(1.2,1)" font-size="10.7" text-anchor="start" fill="#111" >103,1</text>
<text transform="translate(18.00,484.40) scale(1.2,1)" font-size="10.6" text-anchor="start" fill="#111" >20A(C)22X104</text>
<text transform="translate(164.00,485.50) scale(1.2,1)" font-size="10.7" text-anchor="middle" fill="#111" >22</text>
<text transform="translate(235.30,484.60) scale(1.2,1)" font-size="10.7" text-anchor="start" fill="#111" >31,68</text>
<text transform="translate(324.50,484.60) scale(1.2,1)" font-size="10.7" text-anchor="middle" fill="#111" >42,24</text>
<text transform="translate(392.70,484.60) scale(1.2,1)" font-size="10.7" text-anchor="middle" fill="#111" >180</text>
<text transform="translate(461.40,484.60) scale(1.2,1)" font-size="10.7" text-anchor="middle" fill="#111" >2000</text>
<text transform="translate(510.00,485.10) scale(1.2,1)" font-size="10.7" text-anchor="start" fill="#111" >56,6</text>
<text transform="translate(551.00,484.60) scale(1.2,1)" font-size="10.7" text-anchor="start" fill="#111" >108,1</text>
<text transform="translate(18.00,500.50) scale(1.2,1)" font-size="10.6" text-anchor="start" fill="#111" >20A(C)25X104</text>
<text transform="translate(164.00,500.28) scale(1.2,1)" font-size="10.7" text-anchor="middle" fill="#111" >25</text>
<text transform="translate(235.30,499.90) scale(1.2,1)" font-size="10.7" text-anchor="start" fill="#111" >36,00</text>
<text transform="translate(324.50,498.40) scale(1.2,1)" font-size="10.7" text-anchor="middle" fill="#111" >48,00</text>
<text transform="translate(392.70,498.10) scale(1.2,1)" font-size="10.7" text-anchor="middle" fill="#111" >160</text>
<text transform="translate(461.40,498.10) scale(1.2,1)" font-size="10.7" text-anchor="middle" fill="#111" >2000</text>
<text transform="translate(510.00,498.60) scale(1.2,1)" font-size="10.7" text-anchor="start" fill="#111" >58,8</text>
<text transform="translate(551.00,498.10) scale(1.2,1)" font-size="10.7" text-anchor="start" fill="#111" >113</text>
<text transform="translate(609.7,411) rotate(-90) scale(1,1.18)" font-size="9.4" text-anchor="middle" fill="#111" stroke="#111" stroke-width="0.12">40</text>
<text transform="translate(644.6,352.5) rotate(-90) scale(1,1.18)" font-size="9.4" text-anchor="middle" fill="#111" stroke="#111" stroke-width="0.12">15</text>
<text transform="translate(644.9,411) rotate(-90) scale(1,1.18)" font-size="9.4" text-anchor="middle" fill="#111" stroke="#111" stroke-width="0.12">20</text>
<text transform="translate(682.3,410.6) rotate(-90) scale(1,1.18)" font-size="10.6" text-anchor="middle" fill="#111" stroke="#111" stroke-width="0.28">M6-6H</text>
<text transform="translate(713.4,411) rotate(-90) scale(1,1.18)" font-size="9.4" text-anchor="middle" fill="#111" stroke="#111" stroke-width="0.12">35</text>
<text transform="translate(747.8,411) rotate(-90) scale(1,1.18)" font-size="9.4" text-anchor="middle" fill="#111" stroke="#111" stroke-width="0.12">15</text>
<text transform="translate(785.2,410.6) rotate(-90) scale(1,1.18)" font-size="10.6" text-anchor="middle" fill="#111" stroke="#111" stroke-width="0.28">M6-6H</text>

<path d="M664.6 3.3H794.4V32.6C780 38.6 760 42.8 738 43.2C715 43.4 692 40.8 680 36C668 31.4 664.6 28 664.6 22Z" fill="#e5e6e7" stroke="#222" stroke-width="1.2"/>
<path d="M794.4 32.6C780 38.6 760 42.8 738 43.2C715 43.4 692 40.8 680 36C672 33 667.5 30.5 665.6 27" fill="none" stroke="#1a1a1a" stroke-width="1.9"/>
<g font-weight="bold" fill="#0c0c0c">
<text x="679.3" y="30" font-size="19.3">20</text>
<text transform="translate(702.3,20) scale(1.13,1)" font-size="18.3">A</text>
<text transform="translate(702.6,38.7) scale(1.08,1)" font-size="18.3">C</text>
<text transform="translate(719.6,30) scale(1.065,1)" font-size="19.3">...X104</text>
</g>

<path d="M0 0H800V3.3H0Z" fill="#000"/>
<rect x="2" y="0" width="3.4" height="503.8" fill="#000"/>
<rect x="795.4" y="0" width="3.5" height="503.8" fill="#000"/>
<rect x="2" y="500.3" width="796.9" height="3.5" fill="#000"/>

</svg>
</body></html>
